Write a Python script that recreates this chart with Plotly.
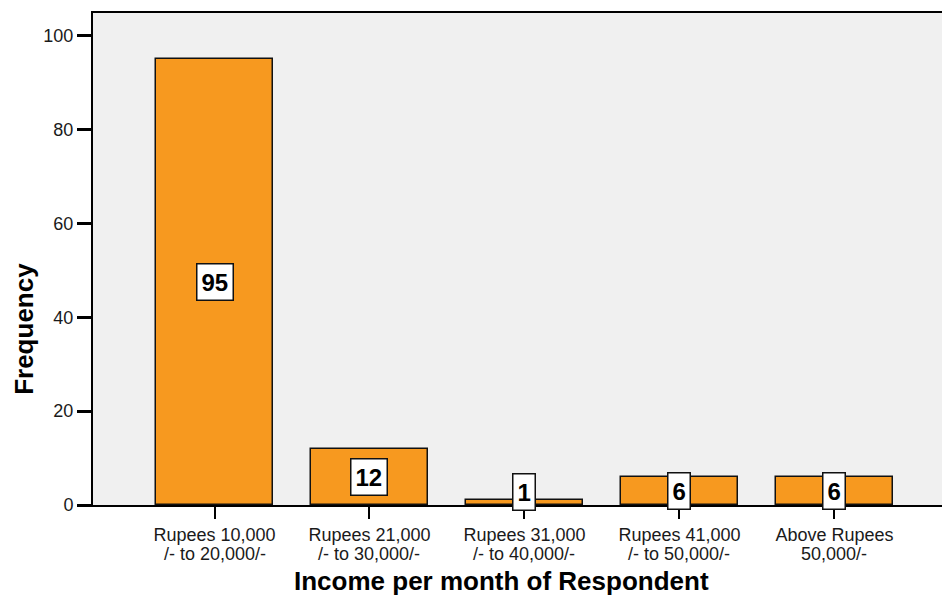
import plotly.graph_objects as go

categories = [
    "Rupees 10,000 /- to 20,000/-",
    "Rupees 21,000 /- to 30,000/-",
    "Rupees 31,000 /- to 40,000/-",
    "Rupees 41,000 /- to 50,000/-",
    "Above Rupees 50,000/-",
]
label_line1 = ["Rupees 10,000", "Rupees 21,000", "Rupees 31,000", "Rupees 41,000", "Above Rupees"]
label_line2 = ["/- to 20,000/-", "/- to 30,000/-", "/- to 40,000/-", "/- to 50,000/-", "50,000/-"]
frequencies = [95, 12, 1, 6, 6]
y_ticks = [0, 20, 40, 60, 80, 100]
x_title = "Income per month of Respondent"
y_title = "Frequency"

LABEL_MIN_Y = 2.7
FONT = "Liberation Sans, Arial, sans-serif"

fig = go.Figure()
fig.add_trace(go.Bar(
    x=categories,
    y=frequencies,
    width=0.755,
    marker=dict(color="#F7991F", line=dict(color="#111111", width=1.5)),
    hoverinfo="x+y",
))

for c, v in zip(categories, frequencies):
    fig.add_annotation(
        x=c, y=max(v / 2, LABEL_MIN_Y), xref="x", yref="y",
        text="<b>%d</b>" % v, showarrow=False,
        font=dict(family=FONT, size=24, color="#000000"),
        bgcolor="#FFFFFF", bordercolor="#111111", borderwidth=1.5, borderpad=4,
    )

# second line of each category label (tighter line spacing than <br>)
for c, t in zip(categories, label_line2):
    fig.add_annotation(
        x=c, y=-0.1, xref="x", yref="paper",
        text=t, showarrow=False,
        font=dict(family=FONT, size=18, color="#1a1a1a"),
        xanchor="center", yanchor="middle",
    )

fig.add_annotation(
    x=-0.0813, y=0.358, xref="paper", yref="paper",
    text="<b>%s</b>" % y_title, textangle=-90, showarrow=False,
    font=dict(family=FONT, size=26, color="#000000"),
    xanchor="center", yanchor="middle",
)
fig.add_annotation(
    x=0.4817, y=-0.1535, xref="paper", yref="paper",
    text="<b>%s</b>" % x_title, showarrow=False,
    font=dict(family=FONT, size=26, color="#000000"),
    xanchor="center", yanchor="middle",
)

fig.update_layout(
    width=942, height=596, autosize=False,
    margin=dict(l=93, r=0, t=13, b=91),
    paper_bgcolor="#FFFFFF", plot_bgcolor="#F0F0F0",
    showlegend=False,
    font=dict(family=FONT, size=18, color="#1a1a1a"),
    bargap=0,
)
fig.update_xaxes(
    type="category", range=[-0.784, 4.694],
    tickvals=categories, ticktext=label_line1,
    showline=True, linecolor="#000000", linewidth=2, mirror=True,
    ticks="outside", ticklen=12, tickwidth=2, tickcolor="#000000",
    showgrid=False, zeroline=False,
    tickfont=dict(family=FONT, size=18, color="#1a1a1a"),
)
fig.update_yaxes(
    range=[0, 104.8], tickvals=y_ticks,
    showline=True, linecolor="#000000", linewidth=2,
    ticks="outside", ticklen=14, tickwidth=2.5, tickcolor="#000000",
    showgrid=False, zeroline=False,
    tickfont=dict(family=FONT, size=18, color="#1a1a1a"),
)

fig.write_html("out.html")
